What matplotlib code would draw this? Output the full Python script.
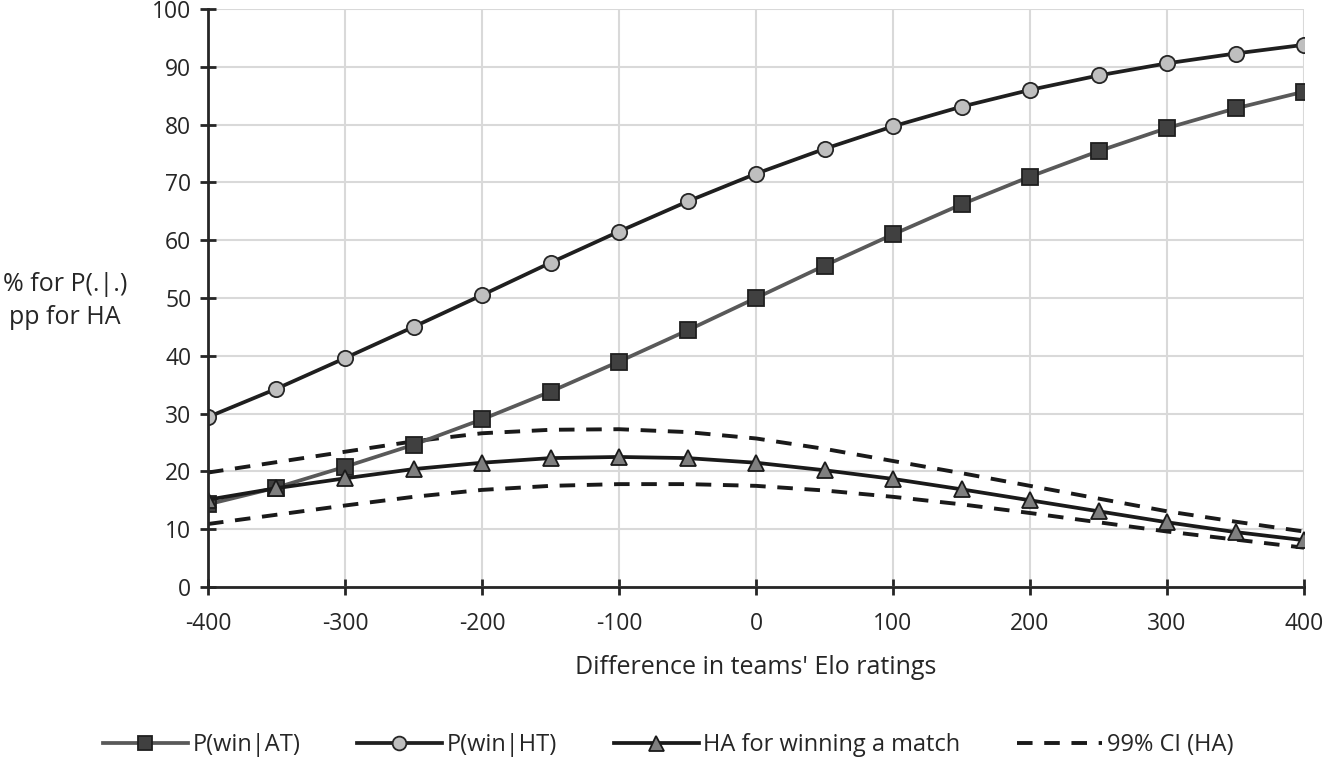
import matplotlib
matplotlib.use("Agg")
import matplotlib.pyplot as plt

elo_diff = [-400, -350, -300, -250, -200, -150, -100, -50, 0, 50, 100, 150, 200, 250, 300, 350, 400]
p_win_at = [14.3, 17.2, 20.8, 24.6, 29.0, 33.8, 39.0, 44.4, 50.0, 55.6, 61.0, 66.2, 71.0, 75.4, 79.4, 82.8, 85.7]
p_win_ht = [29.4, 34.3, 39.6, 45.0, 50.5, 56.1, 61.5, 66.7, 71.5, 75.8, 79.7, 83.1, 86.0, 88.5, 90.6, 92.3, 93.8]
ha_win = [15.1, 17.1, 18.8, 20.4, 21.5, 22.3, 22.5, 22.3, 21.5, 20.2, 18.7, 16.9, 15.0, 13.1, 11.2, 9.5, 8.1]
ci_upper = [19.8, 21.6, 23.4, 25.2, 26.6, 27.2, 27.3, 26.8, 25.7, 23.9, 21.8, 19.7, 17.5, 15.3, 13.1, 11.3, 9.6]
ci_lower = [10.9, 12.5, 14.1, 15.6, 16.8, 17.5, 17.8, 17.8, 17.5, 16.7, 15.6, 14.3, 12.8, 11.2, 9.6, 8.2, 6.8]

x_ticks = [-400, -300, -200, -100, 0, 100, 200, 300, 400]
y_ticks = [0, 10, 20, 30, 40, 50, 60, 70, 80, 90, 100]

plt.rcParams['font.family'] = ['Open Sans', 'DejaVu Sans']
FS_TICK = 16.5
FS_LAB = 18
FS_LEG = 17
TXT = '#262626'

fig = plt.figure(figsize=(13.23, 7.57), dpi=100)
ax = fig.add_axes([208/1323, 1-587/757, (1304-208)/1323, (587-9)/757])

ax.plot(elo_diff, p_win_at, color='#595959', lw=2.7, marker='s', ms=11,
        mfc='#404040', mec='#1f1f1f', mew=1.3, label='P(win|AT)', zorder=4)
ax.plot(elo_diff, p_win_ht, color='#1f1f1f', lw=2.7, marker='o', ms=11,
        mfc='#bfbfbf', mec='#262626', mew=1.3, label='P(win|HT)', zorder=4)
ax.plot(elo_diff, ha_win, color='#1a1a1a', lw=2.7, marker='^', ms=12,
        mfc='#7f7f7f', mec='#1a1a1a', mew=1.3, label='HA for winning a match', zorder=5)
ax.plot(elo_diff, ci_upper, color='#1a1a1a', lw=2.8, ls=(0, (4, 3)), label='99% CI (HA)', zorder=3)
ax.plot(elo_diff, ci_lower, color='#1a1a1a', lw=2.8, ls=(0, (4, 3)), zorder=3)

ax.set_xlim(-400, 400)
ax.set_ylim(0, 100)
ax.set_xticks(x_ticks)
ax.set_yticks(y_ticks)
ax.set_xticklabels([str(v) for v in x_ticks], fontsize=FS_TICK, color=TXT)
ax.set_yticklabels([str(v) for v in y_ticks], fontsize=FS_TICK, color=TXT)
ax.tick_params(axis='both', direction='inout', length=12, width=2, color=TXT)
ax.tick_params(axis='y', pad=6)
ax.tick_params(axis='x', pad=12)

ax.grid(True, color='#d9d9d9', lw=1.5)
ax.set_axisbelow(True)
for s in ['top', 'right']:
    ax.spines[s].set_visible(False)
for s in ['left', 'bottom']:
    ax.spines[s].set_color(TXT)
    ax.spines[s].set_linewidth(2)
    ax.spines[s].set_zorder(6)

ax.set_xlabel("Difference in teams' Elo ratings", fontsize=FS_LAB, color=TXT, labelpad=14)
fig.text(65/1323, 1-301/757, "% for P(.|.)\npp for HA", fontsize=FS_LAB, color=TXT,
         ha='center', va='center', linespacing=1.4)

leg = fig.legend(loc='center', bbox_to_anchor=(668/1323, 1-745/757), ncol=4, frameon=False,
                 fontsize=FS_LEG, handlelength=3.6, columnspacing=2.4, handletextpad=0.2,
                 markerscale=0.9)
for t in leg.get_texts():
    t.set_color(TXT)

fig.savefig('out.png', dpi=100)
